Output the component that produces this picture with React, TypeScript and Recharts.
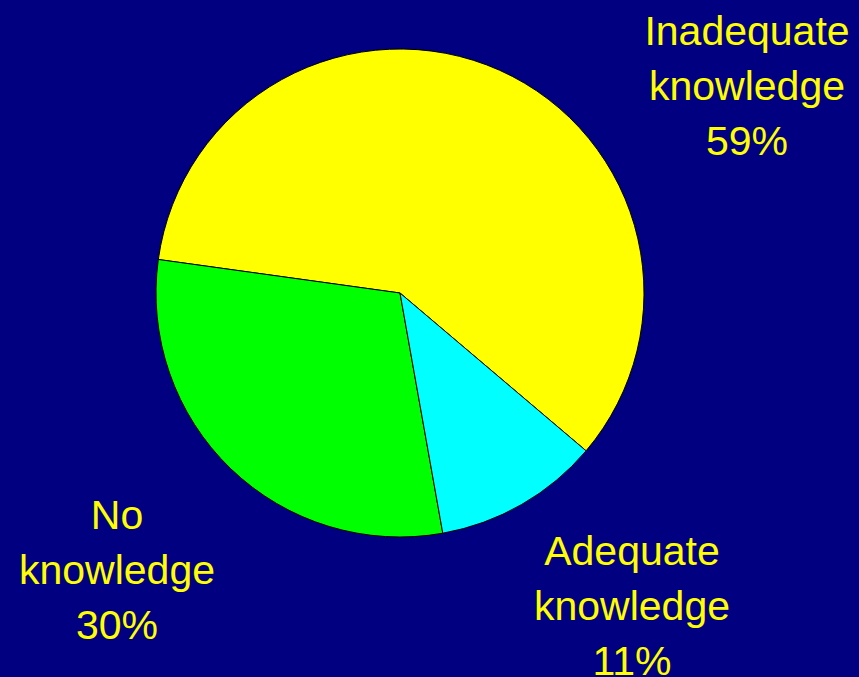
import React from 'react';
import { PieChart, Pie, Cell } from 'recharts';

const categories = ['Inadequate knowledge', 'No knowledge', 'Adequate knowledge'];
const shares = [59, 30, 11];
const sliceColors = ['#ffff00', '#00ff00', '#00ffff'];

// label block anchors relative to pie centre (x centre, middle line baseline)
const labelOffsets = [
  { dx: 347, dy: -193 },
  { dx: -283, dy: 291 },
  { dx: 232, dy: 327 },
];

const data = categories.map((name, i) => ({ name, value: shares[i] }));

const renderLabel = (props: any) => {
  const { cx, cy, index } = props;
  const off = labelOffsets[index];
  const x = cx + off.dx;
  const y = cy + off.dy;
  const words = categories[index].split(' ');
  const lines = [words[0], words.slice(1).join(' '), `${shares[index]}%`];
  return (
    <text
      x={x}
      y={y}
      fill="#ffff00"
      textAnchor="middle"
      fontFamily="'Liberation Sans', Arial, sans-serif"
      fontSize={41}
    >
      {lines.map((line, i) => (
        <tspan key={i} x={x} y={y + (i - 1) * 55}>
          {line}
        </tspan>
      ))}
    </text>
  );
};

export default function App() {
  return (
    <div style={{ position: 'fixed', left: 0, top: 0, width: 859, height: 677, background: '#000080' }}>
      <PieChart width={859} height={677} margin={{ top: 0, right: 0, bottom: 0, left: 0 }}>
        <Pie
          data={data}
          dataKey="value"
          cx={400}
          cy={293}
          outerRadius={244}
          startAngle={-40.3}
          endAngle={319.7}
          stroke="#000000"
          strokeWidth={1}
          label={renderLabel}
          labelLine={false}
          isAnimationActive={false}
        >
          {data.map((d, i) => (
            <Cell key={d.name} fill={sliceColors[i]} />
          ))}
        </Pie>
      </PieChart>
    </div>
  );
}
